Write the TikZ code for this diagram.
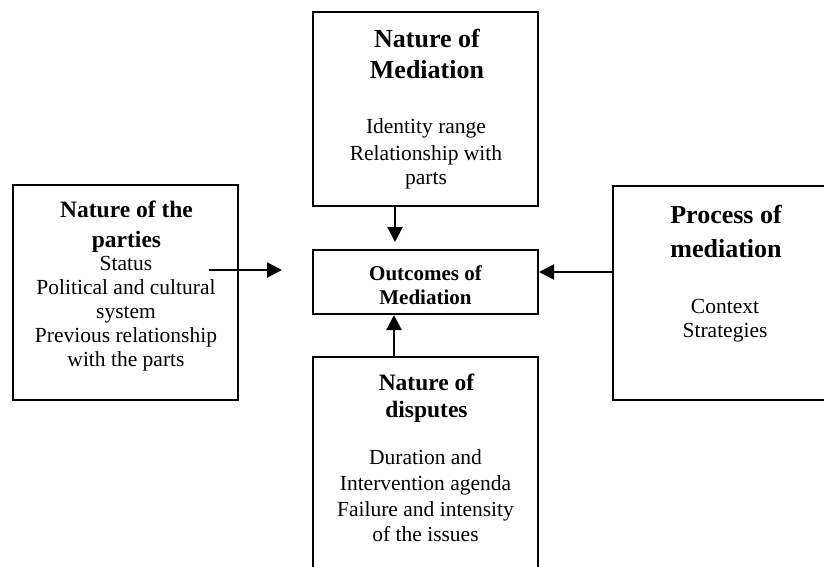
\documentclass[tikz,border=0pt]{standalone}
\usepackage{fontspec}
\setmainfont{Liberation Serif}
\usetikzlibrary{arrows.meta}
\tikzset{
  box/.style={draw, line width=2pt, rectangle, inner sep=0pt},
  link/.style={line width=2.2pt, -{Triangle[length=15pt,width=15pt]}},
  txt/.style={anchor=base, inner sep=0pt},
  bigtitle/.style={txt, font=\fontsize{26}{30}\selectfont\bfseries},
  midtitle/.style={txt, font=\fontsize{23.5}{28}\selectfont\bfseries},
  smalltitle/.style={txt, font=\fontsize{21}{25}\selectfont\bfseries},
  body/.style={txt, font=\fontsize{21.5}{25}\selectfont},
}
\begin{document}
\begin{tikzpicture}[x=1pt,y=-1pt]
\useasboundingbox (0,0) rectangle (824,567);
\fill[white] (0,0) rectangle (824,567);
\clip (0,0) rectangle (824,567);

% the five boxes
\node[box, minimum width=225pt, minimum height=194pt] (med) at (425.5,109) {};
\node[box, minimum width=225pt, minimum height=64pt]  (out) at (425.5,282) {};
\node[box, minimum width=225pt, minimum height=243pt] (dis) at (425.5,478.5) {};
\node[box, minimum width=225pt, minimum height=215pt] (par) at (125.5,292.5) {};
\node[box, minimum width=227pt, minimum height=214pt] (pro) at (726.5,293) {};

% Nature of Mediation
\node[bigtitle] (medt1) at (427,48) {Nature of};
\node[bigtitle] (medt2) at (427,79) {Mediation};
\foreach \t/\y [count=\i] in {{Identity range}/134, {Relationship with}/160, {parts}/184}
  \node[body] (medb\i) at (426,\y) {\t};

% Outcomes of Mediation
\node[smalltitle] (outt1) at (425.5,280) {Outcomes of};
\node[smalltitle] (outt2) at (425.5,304) {Mediation};

% Nature of the parties
\node[midtitle] (part1) at (126.5,217) {Nature of the};
\node[midtitle] (part2) at (126.5,247) {parties};
\foreach \t/\y [count=\i] in {{Status}/270, {Political and cultural}/294, {system}/318,
    {Previous relationship}/342, {with the parts}/366}
  \node[body] (parb\i) at (126,\y) {\t};

% Process of mediation
\node[bigtitle] (prot1) at (726,223) {Process of};
\node[bigtitle] (prot2) at (726,257) {mediation};
\foreach \t/\y [count=\i] in {{Context}/313, {Strategies}/337}
  \node[body] (prob\i) at (725,\y) {\t};

% Nature of disputes
\node[midtitle] (dist1) at (426.5,390) {Nature of};
\node[midtitle] (dist2) at (426.5,417) {disputes};
\foreach \t/\y [count=\i] in {{Duration and}/464, {Intervention agenda}/490,
    {Failure and intensity}/516, {of the issues}/541}
  \node[body] (disb\i) at (425.5,\y) {\t};

% connectors into the outcomes box
\draw[link] ([xshift=-30.5pt]med.south) -- ([xshift=-30.5pt,yshift=7pt]out.north);
\draw[link] ([xshift=-31.5pt]dis.north) -- ([xshift=-31.5pt]out.south);
\draw[link] ([xshift=-30pt,yshift=22.5pt]par.east) -- ([xshift=-30pt,yshift=12pt]out.west);
\draw[link] ([yshift=21pt]pro.west) -- ([yshift=10pt]out.east);
\end{tikzpicture}
\end{document}
